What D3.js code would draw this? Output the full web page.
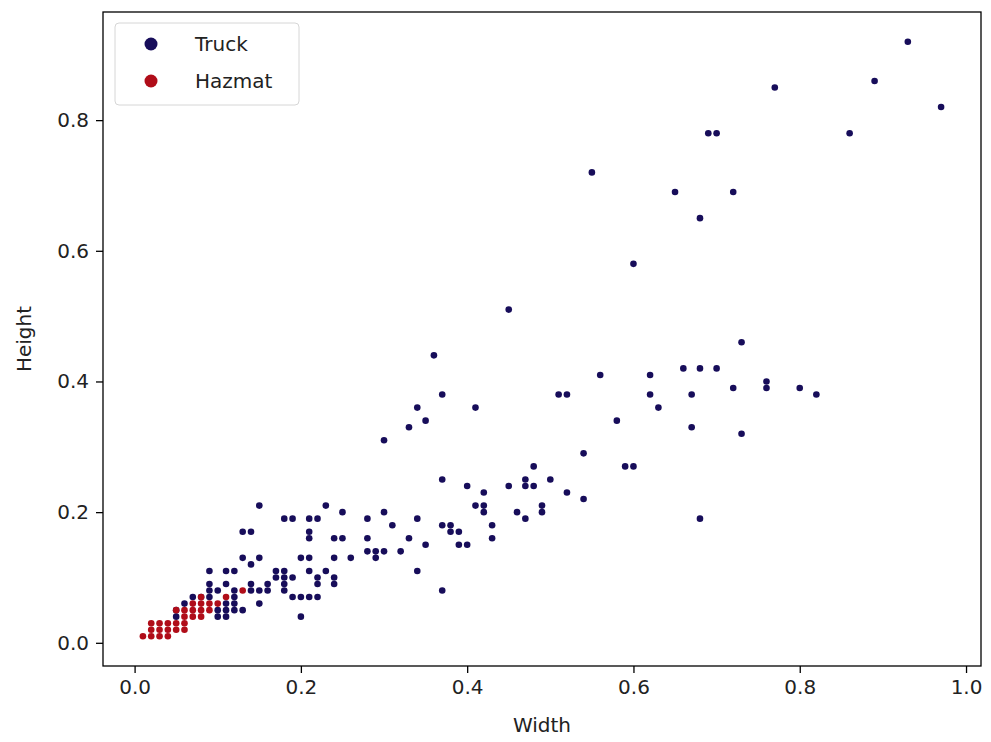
<!DOCTYPE html>
<html>
<head>
<meta charset="utf-8">
<script src="https://cdn.jsdelivr.net/npm/d3@7"></script>
<style>
  body { margin: 0; background: #fff; }
  svg { display: block; font-family: "DejaVu Sans", sans-serif; }
</style>
</head>
<body>
<div id="chart"></div>
<script>
// Truck boxes: [width, height]
const truckPoints = [
  [0.93,0.92],[0.89,0.86],[0.97,0.82],[0.77,0.85],[0.69,0.78],[0.70,0.78],[0.86,0.78],
  [0.55,0.72],[0.65,0.69],[0.72,0.69],[0.68,0.65],[0.60,0.58],[0.45,0.51],[0.73,0.46],[0.36,0.44],
  [0.66,0.42],[0.68,0.42],[0.70,0.42],[0.56,0.41],[0.62,0.41],[0.51,0.38],[0.52,0.38],[0.62,0.38],
  [0.67,0.38],[0.72,0.39],[0.76,0.40],[0.76,0.39],[0.80,0.39],[0.82,0.38],[0.63,0.36],[0.58,0.34],
  [0.67,0.33],[0.73,0.32],[0.54,0.29],[0.48,0.27],[0.59,0.27],[0.60,0.27],[0.45,0.24],[0.47,0.25],
  [0.47,0.24],[0.48,0.24],[0.50,0.25],[0.52,0.23],[0.54,0.22],[0.42,0.23],[0.42,0.21],[0.42,0.20],
  [0.41,0.21],[0.46,0.20],[0.47,0.19],[0.49,0.21],[0.49,0.20],[0.43,0.18],[0.43,0.16],[0.68,0.19],
  [0.37,0.38],[0.34,0.36],[0.41,0.36],[0.33,0.33],[0.35,0.34],[0.30,0.31],[0.37,0.25],[0.40,0.24],
  [0.23,0.21],[0.25,0.20],[0.30,0.20],[0.34,0.19],[0.18,0.19],[0.19,0.19],[0.21,0.19],[0.22,0.19],
  [0.28,0.19],[0.31,0.18],[0.37,0.18],[0.38,0.18],[0.38,0.17],[0.39,0.17],[0.39,0.15],[0.40,0.15],
  [0.21,0.17],[0.21,0.16],[0.24,0.16],[0.25,0.16],[0.28,0.16],[0.33,0.16],[0.35,0.15],[0.28,0.14],
  [0.29,0.14],[0.29,0.13],[0.30,0.14],[0.32,0.14],[0.20,0.13],[0.21,0.13],[0.24,0.13],[0.26,0.13],
  [0.34,0.11],[0.37,0.08],[0.18,0.11],[0.18,0.10],[0.19,0.10],[0.18,0.09],[0.18,0.08],[0.17,0.11],
  [0.17,0.10],[0.21,0.11],[0.22,0.10],[0.22,0.09],[0.23,0.11],[0.24,0.10],[0.24,0.09],[0.19,0.07],
  [0.20,0.07],[0.21,0.07],[0.22,0.07],[0.20,0.04],[0.15,0.21],[0.13,0.17],[0.14,0.17],[0.13,0.13],
  [0.15,0.13],[0.14,0.12],[0.09,0.11],[0.11,0.11],[0.12,0.11],[0.09,0.09],[0.11,0.09],[0.14,0.09],
  [0.16,0.09],[0.16,0.08],[0.15,0.08],[0.15,0.06],[0.09,0.08],[0.10,0.08],[0.12,0.08],[0.12,0.07],
  [0.14,0.08],[0.08,0.07],[0.09,0.07],[0.11,0.06],[0.12,0.06],[0.10,0.05],[0.11,0.05],[0.12,0.05],
  [0.13,0.05],[0.10,0.04],[0.11,0.04],[0.05,0.05],[0.06,0.06],[0.05,0.04],[0.07,0.07]
];

// Hazmat boxes: [width, height]
const hazmatPoints = [
  [0.01,0.01],[0.02,0.01],[0.03,0.01],[0.04,0.01],[0.02,0.02],[0.03,0.02],[0.04,0.02],[0.05,0.02],
  [0.06,0.02],[0.02,0.03],[0.04,0.03],[0.05,0.03],[0.06,0.03],[0.06,0.04],[0.07,0.04],[0.08,0.04],
  [0.06,0.05],[0.07,0.05],[0.08,0.05],[0.09,0.05],[0.07,0.06],[0.08,0.06],[0.09,0.06],[0.10,0.06],
  [0.08,0.07],[0.11,0.07],[0.13,0.08],[0.03,0.03],[0.05,0.05]
];

const seriesNames = ["Truck", "Hazmat"];
const seriesColors = ["#170d5a", "#b00d19"];
const xTicks = [0.0, 0.2, 0.4, 0.6, 0.8, 1.0];
const yTicks = [0.0, 0.2, 0.4, 0.6, 0.8];

const width = 991, height = 742;
const margin = {left: 103, right: 10, top: 12, bottom: 76};

const svg = d3.select("#chart").append("svg")
    .attr("width", width)
    .attr("height", height);

// matplotlib-style 5% auto margins around the data
const all = truckPoints.concat(hazmatPoints);
function padded(ext) {
    const d = (ext[1] - ext[0]) * 0.05;
    return [ext[0] - d, ext[1] + d];
}
const x = d3.scaleLinear()
    .domain(padded(d3.extent(all, d => d[0])))
    .range([margin.left, width - margin.right]);
const y = d3.scaleLinear()
    .domain(padded(d3.extent(all, d => d[1])))
    .range([height - margin.bottom, margin.top]);

// points
[truckPoints, hazmatPoints].forEach((pts, i) => {
    svg.append("g")
        .selectAll("circle")
        .data(pts)
        .join("circle")
        .attr("cx", d => x(d[0]))
        .attr("cy", d => y(d[1]))
        .attr("r", 3.3)
        .attr("fill", seriesColors[i]);
});

// axes
const xAxis = svg.append("g")
    .attr("transform", `translate(0,${height - margin.bottom})`)
    .call(d3.axisBottom(x).tickValues(xTicks).tickFormat(d3.format(".1f")).tickSizeOuter(0).tickSize(7).tickPadding(7));
const yAxis = svg.append("g")
    .attr("transform", `translate(${margin.left},0)`)
    .call(d3.axisLeft(y).tickValues(yTicks).tickFormat(d3.format(".1f")).tickSizeOuter(0).tickSize(7).tickPadding(7));

[xAxis, yAxis].forEach(a => {
    a.select(".domain").remove();
    a.selectAll(".tick line").attr("stroke", "#000").attr("stroke-width", 1.3);
    a.selectAll(".tick text")
        .attr("font-size", 20)
        .attr("font-family", "DejaVu Sans, sans-serif")
        .attr("fill", "#222");
});

// frame
svg.append("rect")
    .attr("x", margin.left)
    .attr("y", margin.top)
    .attr("width", width - margin.left - margin.right)
    .attr("height", height - margin.top - margin.bottom)
    .attr("fill", "none")
    .attr("stroke", "#000")
    .attr("stroke-width", 1.3);

// axis titles
svg.append("text")
    .attr("x", (margin.left + width - margin.right) / 2)
    .attr("y", 732)
    .attr("text-anchor", "middle")
    .attr("font-size", 20)
    .attr("fill", "#222")
    .text("Width");
svg.append("text")
    .attr("transform", `translate(31,${(margin.top + height - margin.bottom) / 2}) rotate(-90)`)
    .attr("text-anchor", "middle")
    .attr("font-size", 20)
    .attr("fill", "#222")
    .text("Height");

// legend
const legend = svg.append("g").attr("transform", "translate(115,23)");
legend.append("rect")
    .attr("width", 184)
    .attr("height", 82)
    .attr("rx", 4)
    .attr("fill", "#fff")
    .attr("fill-opacity", 0.8)
    .attr("stroke", "#d6d6d6");
seriesNames.forEach((name, i) => {
    const row = legend.append("g").attr("transform", `translate(0,${21 + i * 37})`);
    row.append("circle")
        .attr("cx", 36)
        .attr("r", 6.5)
        .attr("fill", seriesColors[i]);
    row.append("text")
        .attr("x", 80)
        .attr("y", 7)
        .attr("font-size", 20)
        .attr("fill", "#222")
        .text(name);
});
</script>
</body>
</html>
